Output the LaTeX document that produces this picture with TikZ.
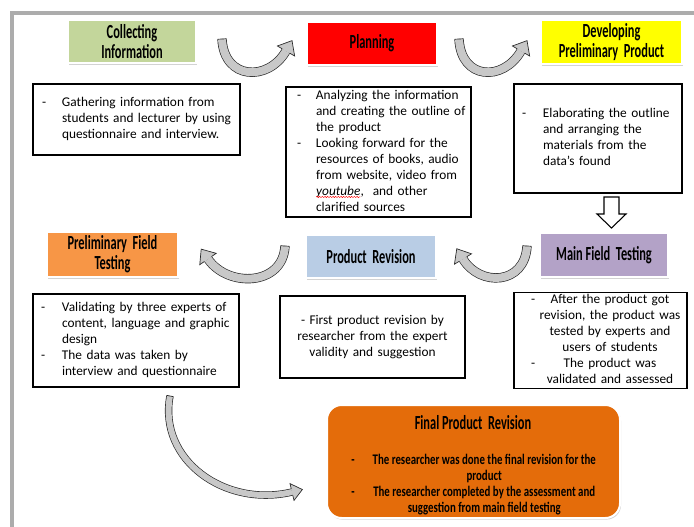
\documentclass[tikz,border=0pt]{standalone}
\usepackage{fontspec}
\usepackage{array}
\setmainfont{Carlito}
\newfontfamily\headfont[FakeStretch=0.62]{Carlito}
\newfontfamily\finfont[FakeStretch=0.74]{Carlito}
\usetikzlibrary{shadows,decorations.pathmorphing,calc}
\definecolor{cGreen}{HTML}{C3D69B}
\definecolor{cRed}{HTML}{FF0000}
\definecolor{cYellow}{HTML}{FFFF00}
\definecolor{cOrange}{HTML}{F79646}
\definecolor{cBlue}{HTML}{B9CDE5}
\definecolor{cPurple}{HTML}{B3A2C7}
\definecolor{cFinal}{HTML}{E46C0A}
\definecolor{cArrow}{HTML}{C8C8C8}
\newcommand\bodyfnt{\fontsize{10}{12}\selectfont}
\newcommand\hfnt{\headfont\bfseries\fontsize{15}{15}\selectfont}
\newcommand\ffnt{\finfont\bfseries\fontsize{11}{12}\selectfont}
\newcommand\wavyword[1]{\tikz[baseline=(ww.base)]{\node[draw=none,fill=none,inner sep=0pt,outer sep=0pt,minimum width=0pt,minimum height=0pt,text width=,align=left](ww){#1};\draw[red,line width=0.3pt,decorate,decoration={snake,amplitude=0.5pt,segment length=2pt}] ([yshift=-1.3pt]ww.base west) -- ([yshift=-1.3pt]ww.base east);}}
% curved block arrow: #1 start, #2 ctrl1, #3 ctrl2, #4 end, #5 band width, #6 band half, #7 head length, #8 head half width
\newcommand\curvedarrow[8]{%
  \draw[draw=black!85, line width=0.5pt, double=cArrow, double distance=#5] (#1) .. controls (#2) and (#3) .. (#4);
  \draw[draw=black!85, line width=0.5pt] ($(#1)!#6!90:(#2)$) -- ($(#1)!#6!-90:(#2)$);
  \fill[cArrow] ($(#4)!#8!90:(#3)$) -- ($(#4)!-#7!(#3)$) -- ($(#4)!#8!-90:(#3)$) -- cycle;
  \draw[draw=black!85, line width=0.5pt, line join=miter] ($(#4)!#6!90:(#3)$) -- ($(#4)!#8!90:(#3)$) -- ($(#4)!-#7!(#3)$) -- ($(#4)!#8!-90:(#3)$) -- ($(#4)!#6!-90:(#3)$);}
\begin{document}
\begin{tikzpicture}[x={(0.75pt,0)}, y={(0,-0.75pt)},
  head/.style={draw=white, line width=1.2pt, inner sep=0pt, align=center, font=\hfnt,
    drop shadow={shadow xshift=0.8pt, shadow yshift=-1.2pt, opacity=0.35}},
  tbox/.style={draw=black, line width=1pt, fill=white, inner ysep=0pt, align=left, font=\bodyfnt}
]
\useasboundingbox (0,0) rectangle (694,526);
\clip (0,0) rectangle (694,526);
\draw[line width=3.2pt, draw=gray!65] (12,540) -- (12,13) -- (710,13);

% headings
\node[head, fill=cGreen, minimum width=96pt, minimum height=32.25pt] (col) at (132,41.5) {Collecting\\Information};
\node[head, fill=cRed, minimum width=97.5pt, minimum height=32.25pt] (pla) at (372,43.5) {Planning};
\node[head, fill=cYellow, minimum width=105.75pt, minimum height=33pt] (dev) at (611.5,42) {Developing\\Preliminary\ \ Product};
\node[head, fill=cOrange, minimum width=98.25pt, minimum height=33.75pt] (pft) at (112.5,254.5) {Preliminary\ \ Field\\Testing};
\node[head, fill=cBlue, minimum width=97.5pt, minimum height=32.25pt] (prv) at (371,256.5) {Product\ \ Revision};
\node[head, fill=cPurple, minimum width=96pt, minimum height=33pt] (mft) at (604,255) {Main Field\ \ Testing};

% text boxes
\node[tbox, text width=141.75pt, inner xsep=6.75pt, minimum height=53.25pt] (b1) at (136.5,119.5)
 {\begin{tabular}{@{}p{15pt}@{}l@{}}-&Gathering information from\\&students and lecturer by using\\&questionnaire and interview.\end{tabular}};
\node[tbox, text width=122.25pt, inner xsep=8.25pt, minimum height=97.5pt] (b2) at (378.5,152)
 {\begin{tabular}{@{}p{14.25pt}@{}l@{}}-&Analyzing the information\\&and creating the outline of\\&the product\\-&Looking forward for the\\&resources of books, audio\\&from website, video from\\&\wavyword{\textit{youtube}},\ \ and other\\&clarified sources\end{tabular}};
\node[tbox, text width=114pt, inner xsep=6pt, minimum height=81.75pt] (b3) at (598,138.5)
 {\begin{tabular}{@{}p{15.75pt}@{}l@{}}-&Elaborating the outline\\&and arranging the\\&materials from the\\&data’s found\end{tabular}};
\node[tbox, text width=142.5pt, inner xsep=6pt, minimum height=69.75pt] (b4) at (136,340.5)
 {\begin{tabular}{@{}p{15.75pt}@{}l@{}}-&Validating by three experts of\\&content, language and graphic\\&design\\-&The data was taken by\\&interview and questionnaire\end{tabular}};
\node[tbox, align=center, text width=130.75pt, inner xsep=4pt, minimum height=61.5pt] (b5) at (372.5,337)
 {- First product revision by\\researcher from the expert\\validity and suggestion};
\node[tbox, text width=129.75pt, inner xsep=0pt, minimum height=69.75pt] (b6) at (600.5,340.5)
 {\begin{tabular}{@{\hspace{12.75pt}}p{6pt}@{}>{\centering\arraybackslash}p{106.5pt}@{}}-&After the product got\\&revision, the product was\\&tested by experts and\\&users of students\\-&The product was\\&validated and assessed\end{tabular}};

% final box
\node[draw=white, line width=1.5pt, fill=cFinal, rounded corners=11pt, minimum width=219.75pt, minimum height=84.75pt,
  drop shadow={shadow xshift=0.8pt, shadow yshift=-1.2pt, opacity=0.35}] (fin) at (473.5,461.5) {};
\node[font=\hfnt, inner sep=0pt] (finh) at (473,423) {Final Product\ \ Revision};
\node[font=\ffnt, inner sep=0pt, anchor=west] (finb) at (351,485)
 {\begin{tabular}{@{}p{9pt}@{}>{\centering\arraybackslash}p{181.5pt}@{}}-&The researcher was done the final revision for the\\&product\\-&The researcher completed by the assessment and\\&suggestion from main field testing\end{tabular}};

% curved arrows
\curvedarrow{222,39}{224,80}{268,82}{286,51}{6pt}{3.25pt}{9pt}{7.5pt}
\curvedarrow{459,39}{461,80}{503,82}{521,51}{6pt}{3.25pt}{9pt}{7.5pt}
\curvedarrow{285,246}{283,286}{228,288}{208,259}{6pt}{3.25pt}{9pt}{7.5pt}
\curvedarrow{527,246}{525,285}{480,287}{463,259}{6pt}{3.25pt}{9pt}{7.5pt}
\curvedarrow{170,396}{158,460}{225,508}{292,492}{4.5pt}{2.5pt}{8pt}{6.5pt}

% down block arrow
\draw[line width=0.8pt, fill=white, line join=miter] (604,197) -- (619,197) -- (619,214) -- (626,214) -- (611.5,228) -- (597,214) -- (604,214) -- cycle;
\end{tikzpicture}
\end{document}
